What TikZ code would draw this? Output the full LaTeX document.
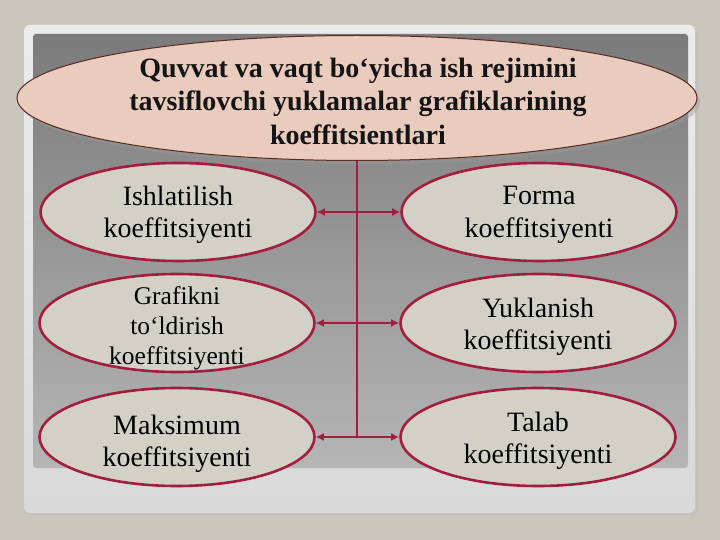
\documentclass[tikz,border=0pt]{standalone}
\usepackage{fontspec}
\setmainfont{Liberation Serif}
\usetikzlibrary{shapes.geometric,arrows.meta}
\definecolor{bgc}{HTML}{C9C7BC}
\definecolor{crim}{HTML}{A31E3E}
\definecolor{ellfill}{HTML}{D3D0C7}
\definecolor{topfill}{HTML}{E9CCBE}
\definecolor{topline}{HTML}{5A2A22}
\tikzset{
  oval/.style={ellipse, draw=crim, line width=2.6pt, fill=ellfill, minimum width=275pt, minimum height=98pt, inner sep=0pt},
  lbl/.style={align=center, text=black, font=\fontsize{28}{32.5}\selectfont, inner sep=0pt},
  lblsm/.style={align=center, text=black, font=\fontsize{25.5}{30}\selectfont, inner sep=0pt},
  conn/.style={draw=crim, line width=2.5pt},
  tip/.style={{Latex[length=8pt,width=8pt]}-{Latex[length=8pt,width=8pt]}}
}
\begin{document}
\begin{tikzpicture}[x=1pt,y=-1pt]
\useasboundingbox (0,0) rectangle (720,540);
\fill[bgc] (0,0) rectangle (720,540);
% panel frame
\fill[black!25,opacity=0.5,rounded corners=6pt] (26,28) rectangle (698,516);
\shade[rounded corners=6pt, top color=black!8, bottom color=black!15] (24,25) rectangle (695,513);
\shade[rounded corners=3pt, top color=black!52, middle color=black!19, bottom color=black!29] (33,34) rectangle (688,468);
% top ellipse
\fill[black!40,opacity=0.4] (360,102) ellipse [x radius=340pt, y radius=62.5pt];
\node[ellipse, draw=topline, line width=1pt, fill=topfill, minimum width=680pt, minimum height=125pt, inner sep=0pt] (top) at (357,98) {};
\node[align=center, font=\bfseries\fontsize{28}{33.5}\selectfont, text=black!92, inner sep=0pt] (toptxt) at (358,101)
  {Quvvat va vaqt bo‘yicha ish rejimini\\tavsiflovchi yuklamalar grafiklarining\\koeffitsientlari};
% six ellipses
\node[oval] (L1) at (178,212) {};
\node[oval] (R1) at (539,212) {};
\node[oval] (L2) at (177,323) {};
\node[oval] (R2) at (538,323) {};
\node[oval] (L3) at (177,437) {};
\node[oval] (R3) at (538,437) {};
% connectors
\draw[conn] (top.south) -- (top.south |- L3.center);
\draw[conn,tip] (L1.east) -- (R1.west);
\draw[conn,tip] (L2.east) -- (R2.west);
\draw[conn,tip] (L3.east) -- (R3.west);
% labels
\node[lbl] (L1t) at ([yshift=-3pt]L1.center) {Ishlatilish\\koeffitsiyenti};
\node[lbl] (R1t) at ([yshift=-3pt]R1.center) {Forma\\koeffitsiyenti};
\node[lblsm] (L2t) at ([yshift=-5pt]L2.center) {Grafikni\\to‘ldirish\\koeffitsiyenti};
\node[lbl] (R2t) at ([yshift=-4pt]R2.center) {Yuklanish\\koeffitsiyenti};
\node[lbl] (L3t) at ([yshift=-7pt]L3.center) {Maksimum\\koeffitsiyenti};
\node[lbl] (R3t) at ([yshift=-4pt]R3.center) {Talab\\koeffitsiyenti};
\end{tikzpicture}
\end{document}
